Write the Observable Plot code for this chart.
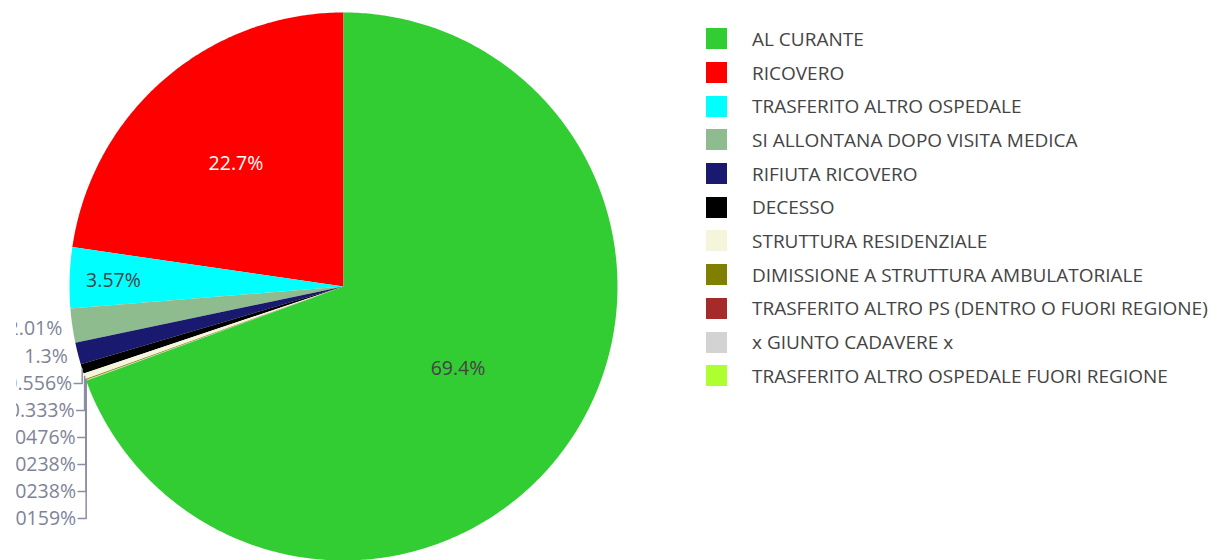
<!DOCTYPE html>
<html><head><meta charset="utf-8">
<script src="https://cdn.jsdelivr.net/npm/d3@7"></script>
<script src="https://cdn.jsdelivr.net/npm/@observablehq/plot@0.6"></script>
<style>
body{margin:0;background:#fff;font-family:"Open Sans",sans-serif;}
#wrap{position:relative;width:1212px;height:560px;overflow:hidden;}
#clip{position:absolute;left:16px;top:0;width:1196px;height:560px;overflow:hidden;}
#clip svg{margin-left:-16px;max-width:none;width:1212px;height:560px;}
#legend{position:absolute;left:706px;top:22px;}
.row{display:flex;align-items:center;height:33.7px;}
.sw{width:21px;height:21px;margin-right:25px;flex:none;}
.lb{font-size:19px;color:#444;white-space:nowrap;}
</style></head><body><div id="wrap"><div id="clip"></div></div>
<script>
const categories = ["AL CURANTE","RICOVERO","TRASFERITO ALTRO OSPEDALE","SI ALLONTANA DOPO VISITA MEDICA","RIFIUTA RICOVERO","DECESSO","STRUTTURA RESIDENZIALE","DIMISSIONE A STRUTTURA AMBULATORIALE","TRASFERITO ALTRO PS (DENTRO O FUORI REGIONE)","x GIUNTO CADAVERE x","TRASFERITO ALTRO OSPEDALE FUORI REGIONE"];
const values = [69.4,22.7,3.57,2.01,1.3,0.556,0.333,0.0476,0.0238,0.0238,0.0159];
const colors = ["#32cd32","#ff0000","#00ffff","#8fbc8f","#191970","#000000","#f5f5dc","#808000","#a52a2a","#d3d3d3","#adff2f"];
const labels = ["69.4%","22.7%","3.57%","2.01%","1.3%","0.556%","0.333%","0.0476%","0.0238%","0.0238%","0.0159%"];

const R = 274; // pixels per unit radius
const total = d3.sum(values);
const order = [...d3.range(1, values.length), 0];
let acc = 0;
const slices = order.map(i => {
  const a0 = acc / total * 2 * Math.PI; acc += values[i];
  const a1 = acc / total * 2 * Math.PI;
  return {i, a0, a1, mid: (a0 + a1) / 2, frac: values[i] / total};
});
const pt = (a, r) => [-Math.sin(a) * r, Math.cos(a) * r];
const poly = [];
for (const s of slices) {
  const n = Math.max(2, Math.ceil((s.a1 - s.a0) / 0.01));
  poly.push({k: s.i, x: 0, y: 0, c: colors[s.i]});
  for (let j = 0; j <= n; j++) {
    const [x, y] = pt(s.a0 + (s.a1 - s.a0) * j / n, 1);
    poly.push({k: s.i, x, y, c: colors[s.i]});
  }
  poly.push({k: s.i, x: 0, y: 0, c: colors[s.i]});
}
const inside = [], outside = [], leaders = [];
let prevY = Infinity;
for (const s of slices) {
  if (s.frac > 0.03) {
    const r = s.frac > 0.5 ? 0.51 : s.frac > 0.1 ? 0.6 : 0.84;
    const [x, y] = pt(s.mid, r);
    inside.push({x, y: y - 2 / R, text: labels[s.i], fill: d3.lab(colors[s.i]).l < 60 ? "#ffffff" : "#444444"});
  } else {
    const [px, py] = pt(s.mid, 1);
    let ly = py - 3 / R;
    const pushed = ly > prevY - 27 / R;
    if (pushed) ly = prevY - 27 / R;
    prevY = ly;
    outside.push({x: px - 10 / R, y: ly, text: labels[s.i]});
    if (pushed) {
      leaders.push({k: s.i, x: px, y: py}, {k: s.i, x: px, y: ly}, {k: s.i, x: px - 8 / R, y: ly});
    }
  }
}

const plot = Plot.plot({
  width: 1212, height: 560,
  marginLeft: 69, marginRight: 1212 - 617, marginTop: 12, marginBottom: 0,
  x: {domain: [-1, 1], axis: null},
  y: {domain: [-1, 1], axis: null},
  color: {type: "identity"},
  style: {fontFamily: "'Open Sans', sans-serif"},
  marks: [
    Plot.line(poly, {x: "x", y: "y", z: "k", fill: "c", stroke: "none", curve: "linear"}),
    Plot.line(leaders, {x: "x", y: "y", z: "k", stroke: "#8c8ea3", strokeWidth: 1.5}),
    Plot.text(inside, {x: "x", y: "y", text: "text", fill: "fill", fontSize: 19.5}),
    Plot.text(outside, {x: "x", y: "y", text: "text", textAnchor: "end", fill: "#7f8399", fontSize: 19.5})
  ]
});
document.getElementById("clip").appendChild(plot);

const legend = document.createElement("div");
legend.id = "legend";
categories.forEach((c, i) => {
  const row = document.createElement("div"); row.className = "row";
  const sw = document.createElement("div"); sw.className = "sw"; sw.style.background = colors[i];
  const lb = document.createElement("div"); lb.className = "lb"; lb.textContent = c;
  row.appendChild(sw); row.appendChild(lb); legend.appendChild(row);
});
document.getElementById("wrap").appendChild(legend);
</script></body></html>
